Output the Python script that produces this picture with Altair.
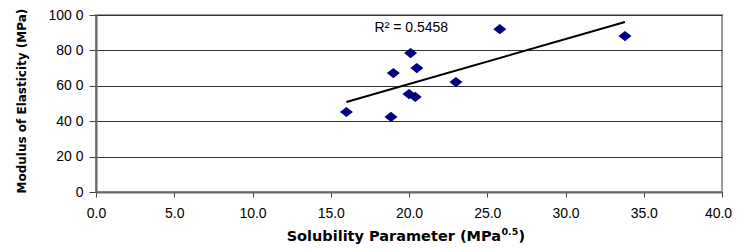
import altair as alt
import pandas as pd

solubility = [25.8, 33.8, 20.1, 20.5, 19.0, 23.0, 20.0, 20.4, 16.0, 18.85]
modulus = [920, 881, 785, 700, 672, 621, 553, 537, 452, 424]
r2_label = ["R\u00b2 = 0.5458"]
r2_pos_x = [17.8]
r2_pos_y = [926]

x_ticks = [0, 5, 10, 15, 20, 25, 30, 35, 40]
y_ticks = [0, 200, 400, 600, 800, 1000]

x_title_main = "Solubility Parameter (MPa"
x_title_sup = "0.5"
x_title_end = ")"
y_title = "Modulus of Elasticity (MPa)"

df = pd.DataFrame({"x": solubility, "y": modulus})
lab = pd.DataFrame({"x": r2_pos_x, "y": r2_pos_y, "t": r2_label})

FONT = "Liberation Sans"
BFONT = "DejaVu Sans"

xscale = alt.Scale(domain=[0, 40], nice=False, zero=False)
yscale = alt.Scale(domain=[0, 1000], nice=False)

xaxis = alt.Axis(
    title=None,
    values=x_ticks,
    tickCount=20,
    format=".1f",
    grid=False,
    tickSize=5,
    labelPadding=9,
    labelFontSize=14,
    labelFont=FONT,
    labelColor="#000",
    labelOverlap=False,
    labelOffset={"condition": {"test": "datum.value == 40", "value": -4}, "value": 0},
    domainColor="#666",
    domainWidth=2,
    tickColor="#444",
    labelFlush=False,
)

yaxis = alt.Axis(
    title=y_title,
    values=y_ticks,
    tickCount=20,
    labelExpr="datum.value == 0 ? '0' : format(datum.value / 10, 'd') + ' 0'",
    grid=True,
    gridColor="#333",
    gridWidth=1,
    tickSize=7,
    labelPadding=6,
    labelFontSize=14,
    labelFont=FONT,
    labelColor="#000",
    labelOverlap=False,
    titleFont=BFONT,
    titleFontSize=12,
    titleFontWeight="bold",
    titleColor="#000",
    titleAngle=270,
    titleAlign="left",
    titleBaseline="middle",
    titleX=-75,
    titleY=178,
    domainColor="#666",
    domainWidth=2,
    tickColor="#444",
    labelFlush=False,
)

base = alt.Chart(df)

points = base.mark_point(
    shape="M-1,0L0,-0.78L1,0L0,0.78Z", filled=True, opacity=1, color="#000080", size=170
).encode(
    x=alt.X("x:Q", scale=xscale, axis=xaxis),
    y=alt.Y("y:Q", scale=yscale, axis=yaxis),
)

trend = base.transform_regression("x", "y").mark_line(color="#000", strokeWidth=2).encode(
    x=alt.X("x:Q", scale=xscale),
    y=alt.Y("y:Q", scale=yscale),
)

text = alt.Chart(lab).mark_text(
    align="left", baseline="middle", fontSize=14, font=FONT, color="#000"
).encode(
    x=alt.X("x:Q", scale=xscale),
    y=alt.Y("y:Q", scale=yscale),
    text="t:N",
)

# x-axis title with superscript, drawn as three text pieces below the plot
title_df = pd.DataFrame({"a": [x_title_main], "b": [x_title_sup], "c": [x_title_end]})
t_main = alt.Chart(title_df).mark_text(
    align="right", baseline="alphabetic", font=BFONT, fontSize=14.5, fontWeight="bold", color="#000"
).encode(x=alt.value(405), y=alt.value(226), text="a:N")
t_sup = alt.Chart(title_df).mark_text(
    align="left", baseline="alphabetic", font=BFONT, fontSize=9.5, fontWeight="bold", color="#000"
).encode(x=alt.value(405.5), y=alt.value(220), text="b:N")
t_end = alt.Chart(title_df).mark_text(
    align="left", baseline="alphabetic", font=BFONT, fontSize=14.5, fontWeight="bold", color="#000"
).encode(x=alt.value(422.5), y=alt.value(226), text="c:N")

chart = (
    alt.layer(points, trend, text, t_main, t_sup, t_end)
    .properties(
        width=626,
        height=177,
        autosize=alt.AutoSizeParams(type="none"),
        padding={"left": 88, "top": 7, "right": 11, "bottom": 52},
    )
    .configure_view(stroke="#999", strokeWidth=2)
)

chart.save("out.html", embed_options={"renderer": "svg", "actions": False})
